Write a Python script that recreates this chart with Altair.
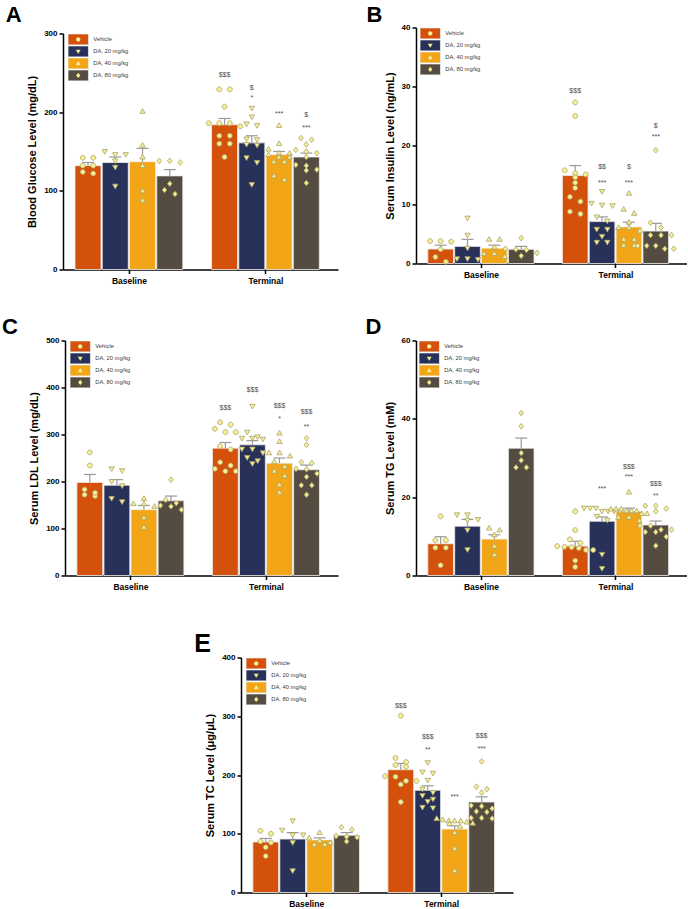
import altair as alt
import pandas as pd

# ---------------------------------------------------------------------------
# Groups, periods and styling
# ---------------------------------------------------------------------------
GROUPS = ["Vehicle", "DA, 20 mg/kg", "DA, 40 mg/kg", "DA, 80 mg/kg"]
PERIODS = ["Baseline", "Terminal"]
BAR_COLORS = ["#D4510B", "#283159", "#F2A516", "#544C41"]
MARKER_KEYS = ["circle", "tri-down", "tri-up", "diamond"]

# ---------------------------------------------------------------------------
# A: blood glucose (mg/dL)   [baseline groups], [terminal groups]
# ---------------------------------------------------------------------------
GLU_MEAN = [[132, 136, 137, 119], [184, 161, 146, 143]]
GLU_SEM = [[4, 7, 17, 8], [8, 9, 4, 5]]
GLU_PTS = [
    [[142, 142, 132, 132, 122, 124],
     [150, 146, 146, 138, 130, 106],
     [201, 158, 143, 132, 100, 88],
     [138, 136, 138, 109, 101, 96]],
    [[229, 229, 207, 186, 186, 186, 182, 170, 170, 160, 160, 143],
     [205, 194, 183, 185, 166, 165, 159, 158, 142, 136, 108],
     [183, 160, 153, 148, 148, 146, 143, 143, 137, 137, 119, 114],
     [167, 165, 159, 150, 152, 148, 143, 132, 133, 126, 127, 110]],
]
GLU_NOTE_TEXT = [["$$$"], ["$", "*"], ["***"], ["$", "***"]]
GLU_NOTE_Y = [[247], [231, 218], [198], [196, 180]]

# ---------------------------------------------------------------------------
# B: serum insulin (ng/mL)
# ---------------------------------------------------------------------------
INS_MEAN = [[2.45, 2.9, 2.6, 2.4], [14.9, 7.1, 6.2, 5.5]]
INS_SEM = [[0.65, 1.2, 0.5, 0.5], [1.7, 0.8, 0.8, 1.3]]
INS_PTS = [
    [[3.8, 3.7, 3.8, 2.4, 1.1, 0.3],
     [7.7, 4.8, 2.6, 0.8, 0.8, 0.7],
     [4.1, 4.1, 2.8, 1.7, 1.7, 1.2],
     [4.3, 2.5, 2.4, 2.3, 1.8, 1.3]],
    [[27.3, 25.0, 15.8, 15.3, 15.1, 14.6, 13.7, 12.8, 11.3, 10.5, 8.8, 8.4],
     [12.2, 10.2, 9.9, 9.8, 7.9, 7.2, 5.8, 5.8, 4.6, 3.6, 3.6],
     [11.9, 9.2, 8.5, 7.0, 6.1, 6.1, 5.5, 4.1, 4.1, 3.1, 3.1],
     [19.2, 6.9, 6.1, 5.5, 4.8, 4.8, 4.8, 3.0, 3.0, 3.0, 2.5, 2.5]],
]
INS_NOTE_TEXT = [["$$$"], ["$$", "***"], ["$", "***"], ["$", "***"]]
INS_NOTE_Y = [[29.3], [16.3, 13.7], [16.3, 13.7], [23.3, 21.4]]

# ---------------------------------------------------------------------------
# C: serum LDL (mg/dL)
# ---------------------------------------------------------------------------
LDL_MEAN = [[198, 192, 140, 159], [271, 278, 239, 225]]
LDL_SEM = [[17, 12, 9, 10], [12, 9, 11, 10]]
LDL_PTS = [
    [[262, 234, 169, 176, 183, 172],
     [223, 227, 200, 191, 164, 157],
     [164, 153, 153, 147, 123, 103],
     [204, 161, 149, 154, 140, 147]],
    [[321, 305, 305, 326, 312, 275, 268, 241, 234, 227, 222, 222],
     [360, 305, 295, 292, 292, 290, 269, 269, 261, 251, 244, 238],
     [303, 285, 261, 261, 254, 242, 232, 222, 212, 193, 177],
     [292, 278, 241, 239, 227, 226, 217, 210, 192, 192, 172]],
]
LDL_NOTE_TEXT = [["$$$"], ["$$$"], ["$$$", "*"], ["$$$", "**"]]
LDL_NOTE_Y = [[356], [395], [360, 333], [347, 316]]

# ---------------------------------------------------------------------------
# D: serum TG (mM)
# ---------------------------------------------------------------------------
TG_MEAN = [[8.1, 12.6, 9.3, 32.5], [7.5, 13.85, 16.4, 12.9]]
TG_SEM = [[1.8, 1.7, 1.1, 2.6], [1.25, 1.1, 0.8, 1.0]]
TG_PTS = [
    [[15.1, 9.0, 9.0, 7.1, 7.1, 2.6],
     [15.5, 15.5, 14.1, 14.3, 11.6, 6.6],
     [12.1, 11.6, 10.4, 7.5, 5.3],
     [41.5, 38.1, 31.3, 29.4, 27.6, 27.6]],
    [[16.4, 11.6, 9.2, 8.3, 7.5, 7.3, 7.2, 7.0, 6.5, 6.5, 3.8, 2.2],
     [17.2, 17.2, 17.2, 16.4, 16.4, 16.4, 16.4, 15.1, 14.1, 5.4, 1.8],
     [21.3, 17.0, 17.0, 17.0, 16.5, 16.5, 16.5, 15.8, 15.8, 14.9, 14.9, 14.0],
     [17.8, 17.8, 17.1, 16.4, 12.7, 12.7, 11.7, 11.7, 11.1, 11.1, 9.9, 7.6]],
]
TG_NOTE_TEXT = [[], ["***"], ["$$$", "***"], ["$$$", "**"]]
TG_NOTE_Y = [[], [22.1], [27.6, 25.1], [23.4, 20.4]]

# ---------------------------------------------------------------------------
# E: serum TC (ug/uL)
# ---------------------------------------------------------------------------
TC_MEAN = [[86, 91, 89.5, 97.5], [209, 174, 108, 154]]
TC_SEM = [[6, 11, 3.5, 4.5], [10.6, 7.6, 5.5, 8.8]]
TC_PTS = [
    [[100, 105, 87, 85, 77, 62],
     [122, 106, 98, 98, 85, 37],
     [102, 93, 88, 82, 82, 85],
     [95, 107, 111, 96, 87, 94]],
    [[301, 229, 222, 217, 214, 198, 197, 190, 190, 184, 154],
     [221, 205, 203, 191, 176, 170, 165, 159, 155, 145, 144],
     [126, 124, 122, 122, 122, 120, 118, 117, 113, 102, 75, 37],
     [223, 180, 176, 170, 148, 147, 143, 138, 137, 127, 127, 126]],
]
TC_NOTE_TEXT = [["$$$"], ["$$$", "**"], ["***"], ["$$$", "***"]]
TC_NOTE_Y = [[318], [264, 242], [163], [267, 245]]

# ---------------------------------------------------------------------------
# Drawing constants
# ---------------------------------------------------------------------------
FONT = "Liberation Sans"
PT_FILL = "#F7EF94"
PT_STROKE = "#A9A36B"
ERR_COLOR = "#9A9A9A"
NOTE_COLOR = "#4D4D4D"

# marker outlines in unit coordinates (scaled by sqrt(size)/2)
MARKER_PATHS = [
    "M0.4,0A0.4,0.4,0,1,1,-0.4,0A0.4,0.4,0,1,1,0.4,0Z",
    "M-0.44,-0.32L0.44,-0.32L0,0.44Z",
    "M-0.44,0.32L0.44,0.32L0,-0.44Z",
    "M0,-0.46L0.38,0L0,0.46L-0.38,0Z",
]
LEGEND_BOX = "M-1.86,-1H1.86V1H-1.86Z"

# x layout in units of one bar pitch
X_MAX = 10.09
X_START = 0.44
GROUP_STEP = 5.01
BAR_SPAN = 0.955

ROW_PX = 5.0       # points closer than this (vertically) share a row
SPREAD_PX = 10.5   # horizontal spacing between points of a row
MAX_ROW_PX = 36.0  # widest a row may get
CAP_PX = 6.0       # half width of the error bar cap


def bar_left(p, g):
    return X_START + GROUP_STEP * p + g


def swarm(vals, px_per_val):
    """Horizontal pixel offsets that spread overlapping points side by side."""
    order = sorted(range(len(vals)), key=lambda k: -vals[k])
    rows = []
    for k in order:
        y = vals[k] * px_per_val
        if rows and rows[-1][0] - y < ROW_PX:
            rows[-1][1].append(k)
        else:
            rows.append([y, [k]])
    offs = [0.0] * len(vals)
    for _, ks in rows:
        n = len(ks)
        step = min(SPREAD_PX, MAX_ROW_PX / (n - 1)) if n > 1 else 0
        for j, k in enumerate(ks):
            offs[k] = (j - (n - 1) / 2) * step
    return offs


def panel(letter, ytitle, ymax, ystep, means, sems, pts, note_text, note_y,
          width, height, title_dx, title_offset, letter_size, legend_x):
    ppx = width / X_MAX
    ppv = height / ymax
    bars, dots, notes = [], [], []
    for p in range(len(PERIODS)):
        for g, grp in enumerate(GROUPS):
            lo = bar_left(p, g)
            hi = lo + BAR_SPAN
            mid = (lo + hi) / 2
            m = means[p][g]
            bars.append(dict(group=grp, lo=lo, hi=hi, mid=mid,
                             cl=mid - CAP_PX / ppx, cr=mid + CAP_PX / ppx,
                             mean=m, top=m + sems[p][g]))
            vals = pts[p][g]
            for v, o in zip(vals, swarm(vals, ppv)):
                dots.append(dict(marker=MARKER_KEYS[g], x=mid + o / ppx, v=v))
    for g in range(len(GROUPS)):
        mid = bar_left(1, g) + BAR_SPAN / 2
        for t, y in zip(note_text[g], note_y[g]):
            notes.append(dict(x=mid, y=y, t=t))

    bars_df = pd.DataFrame(bars)
    dots_df = pd.DataFrame(dots)
    notes_df = pd.DataFrame(notes)

    centers = [bar_left(p, 0) + (3 + BAR_SPAN) / 2 for p in range(len(PERIODS))]
    xscale = alt.Scale(domain=[0, X_MAX], nice=False, zero=False)
    yscale = alt.Scale(domain=[0, ymax], nice=False, zero=True)
    xaxis = alt.Axis(values=centers, title=None, grid=False,
                     labelExpr=f"datum.value < {GROUP_STEP} ? '{PERIODS[0]}' : '{PERIODS[1]}'")
    yaxis = alt.Axis(values=list(range(0, int(ymax) + 1, ystep)), title=ytitle, grid=False)

    color_legend = alt.Legend(
        title=None, orient="none", legendX=legend_x, legendY=0, direction="vertical",
        symbolType=LEGEND_BOX, symbolSize=121, symbolStrokeWidth=0.8,
        symbolStrokeColor="#EDEDED", symbolOpacity=1, symbolOffset=4.23,
        labelOffset=9, labelFontSize=5.8, labelFont=FONT, labelColor="#3A3A3A",
        clipHeight=11.8, rowPadding=0, padding=0, labelLimit=120)
    shape_legend = alt.Legend(
        title=None, orient="none", legendX=legend_x, legendY=0, direction="vertical",
        symbolSize=121, symbolStrokeWidth=0.8, symbolFillColor=PT_FILL,
        symbolStrokeColor=PT_STROKE, symbolOpacity=1, symbolOffset=4.23,
        labelOffset=9, labelFontSize=5.8, labelFont=FONT, labelExpr="''",
        clipHeight=11.8, rowPadding=0, padding=0)

    bar_layer = alt.Chart(bars_df).mark_bar(stroke="#EDEDED", strokeWidth=0.8).encode(
        x=alt.X("lo:Q", scale=xscale, axis=xaxis),
        x2="hi:Q",
        y=alt.Y("mean:Q", scale=yscale, axis=yaxis),
        y2=alt.Y2(datum=0),
        color=alt.Color("group:N", scale=alt.Scale(domain=GROUPS, range=BAR_COLORS),
                        legend=color_legend),
    )
    err_line = alt.Chart(bars_df).mark_rule(color=ERR_COLOR, strokeWidth=1.2).encode(
        x=alt.X("mid:Q", scale=xscale, axis=xaxis),
        y=alt.Y("mean:Q", scale=yscale, axis=yaxis),
        y2="top:Q",
    )
    err_cap = alt.Chart(bars_df).mark_rule(color=ERR_COLOR, strokeWidth=1.2).encode(
        x=alt.X("cl:Q", scale=xscale, axis=xaxis),
        x2="cr:Q",
        y=alt.Y("top:Q", scale=yscale, axis=yaxis),
    )
    dot_layer = alt.Chart(dots_df).mark_point(
        filled=True, fill=PT_FILL, stroke=PT_STROKE, strokeWidth=0.8, opacity=1, size=150
    ).encode(
        x=alt.X("x:Q", scale=xscale, axis=xaxis),
        y=alt.Y("v:Q", scale=yscale, axis=yaxis),
        shape=alt.Shape("marker:N", scale=alt.Scale(domain=MARKER_KEYS, range=MARKER_PATHS),
                        legend=shape_legend),
    )
    layers = [bar_layer, err_line, err_cap, dot_layer]
    if len(notes_df):
        note_layer = alt.Chart(notes_df).mark_text(
            font=FONT, fontSize=7, color=NOTE_COLOR, baseline="middle", align="center"
        ).encode(
            x=alt.X("x:Q", scale=xscale, axis=xaxis),
            y=alt.Y("y:Q", scale=yscale, axis=yaxis),
            text="t:N",
        )
        layers.append(note_layer)

    return alt.layer(*layers).properties(
        width=width, height=height,
        title=alt.TitleParams(text=letter, anchor="start", frame="group", dx=title_dx,
                              offset=title_offset, baseline="top",
                              fontSize=letter_size, fontWeight=900, font=FONT,
                              color="black"),
    ).resolve_scale(color="independent", shape="independent")


def blank(w, h):
    """Invisible block used to push panels into place."""
    return alt.Chart(pd.DataFrame({"v": [0.5]})).mark_point(opacity=0, size=1).encode(
        x=alt.X("v:Q", axis=None, scale=alt.Scale(domain=[0, 1], nice=False)),
        y=alt.Y("v:Q", axis=None, scale=alt.Scale(domain=[0, 1], nice=False)),
    ).properties(width=w, height=h)


IND = dict(color="independent", shape="independent")


def shifted(chart, dx_px):
    return alt.hconcat(blank(dx_px, 1), chart, spacing=0).resolve_scale(**IND)


A = panel("A", "Blood Glucose Level (mg/dL)", 300, 100, GLU_MEAN, GLU_SEM, GLU_PTS,
          GLU_NOTE_TEXT, GLU_NOTE_Y, 275, 236, -57.2, 2.25, 22, 5)
B = panel("B", "Serum Insulin Level (ng/mL)", 40, 10, INS_MEAN, INS_SEM, INS_PTS,
          INS_NOTE_TEXT, INS_NOTE_Y, 271, 236, -49.5, -3.75, 22, 4)
C = panel("C", "Serum LDL Level (mg/dL)", 500, 100, LDL_MEAN, LDL_SEM, LDL_PTS,
          LDL_NOTE_TEXT, LDL_NOTE_Y, 273, 235, -63, -2.65, 22, 5)
D = panel("D", "Serum TG Level (mM)", 60, 20, TG_MEAN, TG_SEM, TG_PTS,
          TG_NOTE_TEXT, TG_NOTE_Y, 271, 235, -50.5, -2.65, 22, 3)
E = panel("E", "Serum TC Level (μg/μL)", 400, 100, TC_MEAN, TC_SEM, TC_PTS,
          TC_NOTE_TEXT, TC_NOTE_Y, 272, 235, -46.8, -3.45, 25, 5)

col_left = alt.vconcat(
    blank(1, 1),
    alt.vconcat(shifted(A, 3.8), shifted(C, 1), spacing=30).resolve_scale(**IND),
    spacing=0,
).resolve_scale(**IND)
col_right = alt.vconcat(
    blank(1, 1),
    alt.vconcat(shifted(B, 2.75), shifted(D, 1.75), spacing=36).resolve_scale(**IND),
    spacing=0,
).resolve_scale(**IND)
top_block = alt.hconcat(col_left, col_right, spacing=25).resolve_scale(**IND)
bottom_row = shifted(E, 192.2)

chart = alt.vconcat(top_block, bottom_row, spacing=40).resolve_scale(**IND).properties(
    padding={"left": 1, "top": 2.5, "right": 0, "bottom": 0}
).configure_view(stroke=None).configure_axis(
    domainColor="black", domainWidth=1.5, tickColor="black", tickWidth=1.5, tickSize=4,
    labelFont=FONT, labelFontSize=8, labelFontWeight="bold", labelColor="black",
    labelPadding=2, titleFont=FONT, titleFontSize=11, titleFontWeight="bold",
    titleColor="black", titlePadding=6,
).configure_axisX(labelFontSize=8.5, labelPadding=3)

chart.save("out.html", embed_options={"renderer": "svg", "actions": False})
